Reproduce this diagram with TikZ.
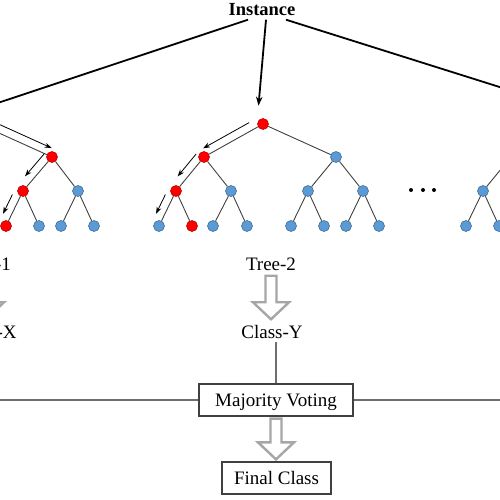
\documentclass[tikz,border=0pt]{standalone}
\usepackage{fontspec}
\setmainfont{Liberation Serif}
\usetikzlibrary{arrows.meta,calc}

\definecolor{nodered}{HTML}{FF0000}
\definecolor{nodeblue}{HTML}{5B9BD5}
\definecolor{edgegray}{HTML}{404040}
\definecolor{arrowgray}{HTML}{A6A6A6}
\definecolor{linegray}{HTML}{6E6E6E}

\newcommand{\hint}[5]{%
  \draw[hint] ($(#1)!#3!(#2)!8pt!#5:(#2)$) -- ($(#1)!#4!(#2)!8pt!#5:(#2)$);}
\newcommand{\bigarrow}[2]{%
  \draw[hollow] let \p1=($(#1.south)+(0,2)$), \p2=($(#2.north)+(0,-2)$) in
    (\x1-5.5pt,\y1) -- (\x1+5.5pt,\y1) -- (\x1+5.5pt,\y2+17pt) -- (\x1+18pt,\y2+17pt)
    -- (\x1,\y2) -- (\x1-18pt,\y2+17pt) -- (\x1-5.5pt,\y2+17pt) -- cycle;}

\tikzset{
  rn/.style={circle, fill=nodered, draw=nodered!75!black, line width=0.6pt,
    minimum size=11pt, inner sep=0pt},
  bn/.style={circle, fill=nodeblue, draw=nodeblue!70!black, line width=0.6pt,
    minimum size=11pt, inner sep=0pt},
  edge/.style={draw=edgegray, line width=0.9pt},
  hint/.style={-{Stealth[length=7pt,width=5pt]}, line width=0.8pt},
  feed/.style={line width=1.8pt, -{Stealth[length=9pt,width=6.5pt]}},
  lbl/.style={font=\fontsize{19}{22}\selectfont, anchor=base},
  box/.style={draw=edgegray, line width=1.3pt, fill=white, minimum height=32pt,
    text height=14.5pt, text depth=2.5pt, font=\fontsize{19}{22}\selectfont},
  hollow/.style={draw=arrowgray, line width=2.4pt, fill=white, line join=miter},
  vote/.style={draw=linegray, line width=1.3pt},
}

\begin{document}
\begin{tikzpicture}[x=1pt,y=-1pt]
  \useasboundingbox (0,0) rectangle (500,500);
  \clip (0,0) rectangle (500,500);

  \node[font=\bfseries\fontsize{18.5}{21}\selectfont, anchor=base] (inst) at (262,16) {Instance};

  % tree 1, cut off on the left
  \node[rn] (lr) at (-21,124) {};
  \node[rn] (lb) at (52,157) {};
  \node[rn] (lba) at (23,191) {};
  \node[bn] (lbb) at (78,191) {};
  \node[rn] (lbaa) at (6,226) {};
  \node[bn] (lbab) at (39,226) {};
  \node[bn] (lbba) at (61,226) {};
  \node[bn] (lbbb) at (94,226) {};

  % tree 2
  \node[rn] (mr) at (263,124) {};
  \node[rn] (ma) at (204,157) {};
  \node[bn] (mb) at (336,157) {};
  \node[rn] (maa) at (176,191) {};
  \node[bn] (mab) at (231,191) {};
  \node[bn] (mba) at (308,191) {};
  \node[bn] (mbb) at (363,191) {};
  \node[bn] (maaa) at (159,226) {};
  \node[rn] (maab) at (192,226) {};
  \node[bn] (maba) at (213,226) {};
  \node[bn] (mabb) at (247,226) {};
  \node[bn] (mbaa) at (291,226) {};
  \node[bn] (mbab) at (324,226) {};
  \node[bn] (mbba) at (346,226) {};
  \node[bn] (mbbb) at (379,226) {};

  % tree 3, cut off on the right
  \node[bn] (rr) at (570,124) {};
  \node[bn] (ra) at (511,157) {};
  \node[bn] (raa) at (483,191) {};
  \node[bn] (raaa) at (466,226) {};
  \node[bn] (raab) at (499,226) {};

  \foreach \a/\b in {lr/lb, lb/lba, lb/lbb, lba/lbaa, lba/lbab, lbb/lbba, lbb/lbbb,
      mr/ma, mr/mb, ma/maa, ma/mab, mb/mba, mb/mbb, maa/maaa, maa/maab, mab/maba,
      mab/mabb, mba/mbaa, mba/mbab, mbb/mbba, mbb/mbbb,
      rr/ra, ra/raa, raa/raaa, raa/raab}
    \draw[edge] (\a) -- (\b);

  % path of the instance
  \hint{lr}{lb}{.15}{.95}{90}
  \hint{lb}{lba}{.06}{.72}{-90}
  \hint{lba}{lbaa}{.2}{.75}{-90}
  \hint{mr}{ma}{.17}{.95}{-90}
  \hint{ma}{maa}{.06}{.72}{-90}
  \hint{maa}{maaa}{.2}{.75}{-90}

  \coordinate (in1) at ([yshift=9pt]lr.north);
  \coordinate (in2) at ([xshift=-4.5pt,yshift=12.5pt]mr.north);
  \coordinate (in3) at ([yshift=9pt]rr.north);
  \draw[feed] ([xshift=-14pt]inst.south) -- (in1);
  \draw[feed] ([xshift=4pt]inst.south) -- (in2);
  \draw[feed] ([xshift=24pt]inst.south) -- (in3);

  \foreach \x in {411,423,434}
    \fill (\x,190) circle (2);

  \node[lbl] (t1) at (-14,270) {Tree-1};
  \node[lbl] (cx) at (-14,338) {Class-X};
  \node[lbl] (t2) at (271,270) {Tree-2};
  \node[lbl] (cy) at (272,338) {Class-Y};
  \bigarrow{t1}{cx}
  \bigarrow{t2}{cy}

  \node[box, minimum width=154pt] (mv) at (276,400) {Majority Voting};
  \node[box, minimum width=109pt] (fc) at (276.5,478) {Final Class};
  \coordinate (cz) at (578,347);
  \draw[vote] (cx.south) |- (mv.west);
  \draw[vote] (cz) |- (mv.east);
  \draw[vote] (mv.north) -- (mv.north |- cy.south);
  \bigarrow{mv}{fc}
\end{tikzpicture}
\end{document}
